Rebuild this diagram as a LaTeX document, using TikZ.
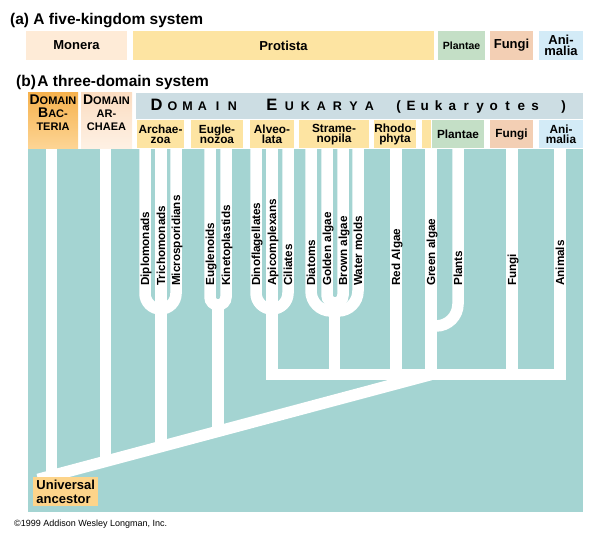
\documentclass[tikz,border=0pt]{standalone}
\usepackage{fontspec}
\setmainfont{Liberation Sans}
\definecolor{sea}{HTML}{A4D4D2}
\definecolor{euk}{HTML}{CCDDE3}
\definecolor{prot}{HTML}{FDE4A2}
\definecolor{plant}{HTML}{C4DFC6}
\definecolor{fung}{HTML}{F3CFB4}
\definecolor{anim}{HTML}{D3EBF7}
\definecolor{mon}{HTML}{FEEBD7}
\definecolor{bactTop}{HTML}{F6B24E}
\definecolor{bactBot}{HTML}{FDD595}
\definecolor{archTop}{HTML}{FBDDC2}
\definecolor{archBot}{HTML}{FEF1E4}
\definecolor{anc}{HTML}{FDD48A}
\newcommand{\capbig}[1]{{\fontsize{14}{13}\selectfont #1}}
\tikzset{
  title/.style={anchor=base west, inner sep=0pt, font=\fontsize{15.5}{16}\selectfont\bfseries},
  kbox/.style={rectangle, minimum height=29pt, inner sep=0pt, align=center, font=\fontsize{13}{11.5}\selectfont\bfseries},
  sbox/.style={rectangle, minimum height=28pt, inner sep=0pt, align=center, font=\fontsize{11.8}{10.5}\selectfont\bfseries},
  dtext/.style={anchor=north, inner sep=0pt, align=center, font=\fontsize{11}{13}\selectfont\bfseries},
  letter/.style={anchor=base, inner sep=0pt, font=\fontsize{12.5}{12}\selectfont\bfseries},
  bigletter/.style={anchor=base, inner sep=0pt, font=\fontsize{16.5}{16}\selectfont\bfseries},
  branch/.style={draw=white, line width=11.5pt},
  taxon/.style={rotate=90, anchor=base west, inner sep=0pt, font=\fontsize{11.7}{12}\selectfont\bfseries}
}
\begin{document}
\begin{tikzpicture}[x=1pt, y=-1pt]
\useasboundingbox (0,0) rectangle (600,540);

\node[title] (titleA) at (10,25) {(a) A five-kingdom system};
\path (76.5,45.5) node[kbox, fill=mon, minimum width=101pt] (monera) {Monera};
\path (283.5,45.5) node[kbox, fill=prot, minimum width=301pt] (protista) {Protista};
\path (461.5,45.5) node[kbox, fill=plant, minimum width=47pt, font=\fontsize{10.5}{10}\selectfont\bfseries] (plantaeA) {Plantae};
\path (511.5,45.5) node[kbox, fill=fung, minimum width=43pt] (fungiA) {Fungi};
\path (561,45.5) node[kbox, fill=anim, minimum width=44pt] (animaliaA) {Ani-\\malia};

\node[title] (titleB) at (16,87) {(b)\hspace{1.5pt}A three-domain system};
\path (53,120.75) node[top color=bactTop, bottom color=bactBot, minimum width=50pt, minimum height=55.5pt, inner sep=0pt] (bacteria) {};
\path (106.5,120.75) node[top color=archTop, bottom color=archBot, minimum width=51pt, minimum height=55.5pt, inner sep=0pt] (archaea) {};
\node[dtext] (bacteriaT) at (53,95) {\capbig{D}OMAIN\\\capbig{B}AC-\\TERIA};
\node[dtext] (archaeaT) at (106.5,95) {\capbig{D}OMAIN\\AR-\\CHAEA};
\path (359.5,106.25) node[fill=euk, minimum width=447pt, minimum height=26.5pt, inner sep=0pt] (eukarya) {};

\path (156.5,111) node[bigletter] (dD) {D};
\foreach \ch [count=\i from 0] in {O,M,A,I,N}
  \path (172.5+15*\i,111) node[letter] (dom\i) {\ch};
\path (272,111) node[bigletter] (eE) {E};
\foreach \ch [count=\i from 0] in {U,K,A,R,Y,A}
  \path (289.5+16*\i,111) node[letter] (euk\i) {\ch};
\path (398.5,111) node[letter, font=\fontsize{13.5}{12}\selectfont\bfseries] (lpar) {(};
\foreach \ch [count=\i from 0] in {E,u,k,a,r,y,o,t,e,s}
  \path (411+13.8*\i,111) node[letter, font=\fontsize{13.5}{12}\selectfont\bfseries] (eukaryotes\i) {\ch};
\path (563.5,111) node[letter, font=\fontsize{13.5}{12}\selectfont\bfseries] (rpar) {)};

\path (160.5,134.5) node[sbox, fill=prot, minimum width=47pt] (archaezoa) {Archae-\\zoa};
\path (217,134.5) node[sbox, fill=prot, minimum width=52pt] (euglenozoa) {Eugle-\\nozoa};
\path (272,134.5) node[sbox, fill=prot, minimum width=44pt] (alveolata) {Alveo-\\lata};
\path (334,134.5) node[sbox, fill=prot, minimum width=70pt] (stramenopila) {Strame-\\nopila};
\path (395,134.5) node[sbox, fill=prot, minimum width=40pt] (rhodophyta) {Rhodo-\\phyta};
\path (426.5,134.5) node[sbox, fill=prot, minimum width=9pt] (strip) {};
\path (458,134.5) node[sbox, fill=plant, minimum width=52pt] (plantaeB) {Plantae};
\path (511.5,134.5) node[sbox, fill=fung, minimum width=43pt] (fungiB) {Fungi};
\path (561,134.5) node[sbox, fill=anim, minimum width=44pt] (animaliaB) {Ani-\\malia};

\fill[sea] (28,149) rectangle (583,512);

\coordinate (root) at (51.5,476);
\coordinate (join) at (431,374.5);
\begin{scope}[branch]
\draw (51.5,149) -- (root);
\draw (38,479.4) -- (join);
\draw (105.5,149) -- (105.5,461.4);
\draw[rounded corners=15.5pt] (145,149) -- (145,309) -- (176,309) -- (176,149);
\draw (161,149) -- (161,446.6);
\draw[rounded corners=8pt] (210,149) -- (210,305) -- (226,305) -- (226,149);
\draw (218,305) -- (218,431.4);
\draw[rounded corners=16pt] (256,149) -- (256,309) -- (288,309) -- (288,149);
\draw (272,149) -- (272,374.5) -- (560,374.5) -- (560,149);
\draw[rounded corners=20pt] (311,149) -- (311,311) -- (358,311) -- (358,149);
\draw[rounded corners=8pt] (327,149) -- (327,303) -- (343,303) -- (343,149);
\draw (334.5,303) -- (334.5,374.5);
\draw (396,149) -- (396,374.5);
\draw (431,149) -- (join);
\draw[rounded corners=22pt] (458,149) -- (458,326) -- (431,326);
\draw (512,149) -- (512,374.5);
\end{scope}

\foreach \x/\name [count=\k] in {145/Diplomonads, 161/Trichomonads, 176/Microsporidians,
    210/Euglenoids, 226/Kinetoplastids, 256/Dinoflagellates, 272/Apicomplexans,
    288/Ciliates, 311/Diatoms, 327/Golden algae, 343/Brown algae, 358/Water molds,
    396/Red Algae, 431/Green algae, 458/Plants, 512/Fungi, 560/Animals}
  \path (\x+4,286) node[taxon] (taxon\k) {\name};

\node[fill=anc, anchor=north west, inner xsep=3pt, inner ysep=2pt, minimum width=65pt, minimum height=29pt, align=left, font=\fontsize{13}{14}\selectfont\bfseries] (ancestor) at (33,477) {Universal\\ancestor};

\node[anchor=base west, inner sep=0pt, font=\fontsize{9}{9}\selectfont] (copyright) at (14,526) {\textcopyright1999 Addison Wesley Longman, Inc.};
\end{tikzpicture}
\end{document}
